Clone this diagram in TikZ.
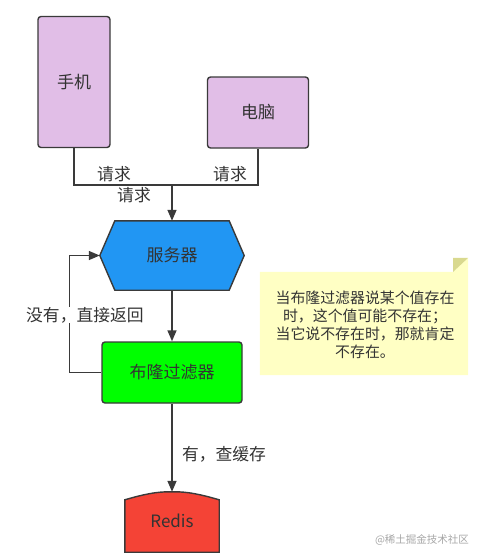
\documentclass[tikz,border=0pt]{standalone}
\usepackage{fontspec}
\setmainfont{Noto Sans CJK SC}
\usetikzlibrary{arrows.meta}
\definecolor{txt}{HTML}{333333}
\definecolor{edge}{HTML}{3A3A3A}
\definecolor{purp}{HTML}{E1BEE7}
\definecolor{blue1}{HTML}{2196F3}
\definecolor{green1}{HTML}{00FF00}
\definecolor{red1}{HTML}{F44336}
\definecolor{notefill}{HTML}{FFFFC4}
\definecolor{notefold}{HTML}{D9D98F}
\tikzset{
  device/.style={draw=edge, line width=1.4pt, fill=purp, rounded corners=3pt, text=txt,
    font=\fontsize{17}{20}\selectfont, inner sep=0pt},
  plain/.style={inner sep=0pt, text=txt, font=\fontsize{17}{20}\selectfont},
  lbl/.style={inner sep=0pt, text=txt, font=\fontsize{16.8}{20}\selectfont},
  conn/.style={draw=edge, line width=1.4pt},
  arr/.style={conn, -{Triangle[length=11pt,width=9pt]}},
}
\begin{document}
\begin{tikzpicture}[x=1pt,y=-1pt]
\useasboundingbox (0,0) rectangle (482,560);
% devices
\node[device, minimum width=72pt, minimum height=131pt] (phone) at (74,82) {手机};
\node[device, minimum width=101pt, minimum height=71pt] (pc) at (258,112.5) {电脑};
\coordinate (join) at (172,185);
% server hexagon
\node[plain, minimum width=144pt, minimum height=69pt] (server) at (172,255.5) {};
\filldraw[draw=edge, line width=1.4pt, fill=blue1]
  (server.west) -- ([xshift=15pt]server.north west) -- ([xshift=-15pt]server.north east)
  -- (server.east) -- ([xshift=-15pt]server.south east) -- ([xshift=15pt]server.south west) -- cycle;
\node[plain] (servertext) at (server.center) {服务器};
% bloom filter
\node[device, fill=green1, minimum width=140pt, minimum height=61pt] (bloom) at (172,372.5) {布隆过滤器};
% redis
\node[plain, minimum width=94pt, minimum height=60pt] (redis) at (172,522) {};
\filldraw[draw=edge, line width=1.4pt, fill=red1]
  (redis.south west) -- ([yshift=-8pt]redis.north west)
  .. controls ([xshift=-20pt]redis.north) and ([xshift=-10pt]redis.north) .. (redis.north)
  .. controls ([xshift=10pt]redis.north) and ([xshift=20pt]redis.north) .. ([yshift=-8pt]redis.north east)
  -- (redis.south east) -- cycle;
\node[plain] (redistext) at ([yshift=1pt]redis.center) {Redis};
% note
\node[inner sep=0pt, minimum width=208pt, minimum height=103pt] (note) at (364,323.5) {};
\fill[notefill] (note.south west) -- (note.north west) -- ([xshift=-15pt]note.north east)
  -- ([yshift=14pt]note.north east) -- (note.south east) -- cycle;
\fill[notefold] ([xshift=-15pt]note.north east) -- ([xshift=-15pt,yshift=14pt]note.north east)
  -- ([yshift=14pt]note.north east) -- cycle;
\node[inner sep=0pt, text=txt, align=center, font=\fontsize{14.9}{18}\selectfont] (notetext) at (365,325)
  {当布隆过滤器说某个值存在\\时，这个值可能不存在；\\当它说不存在时，那就肯定\\不存在。};
% connectors
\draw[conn] (phone.south) |- (join) -| (pc.south);
\draw[arr] (join) -- (server.north);
\draw[arr] (server.south) -- (bloom.north);
\draw[arr] (bloom.west) -- ++(-32pt,0) |- (server.west);
\draw[arr] (bloom.south) -- (redis.north);
% labels
\node[lbl] (l1) at (114,174) {请求};
\node[lbl] (l2) at (230,174) {请求};
\node[lbl] (l3) at (134,195) {请求};
\node[lbl, fill=white] (l4) at (85,315) {没有，直接返回};
\node[lbl] (l5) at (224,454) {有，查缓存};
\node[inner sep=0pt, text=black!35, font=\fontsize{10.5}{12}\selectfont] (wm) at (422,540) {@稀土掘金技术社区};
\end{tikzpicture}
\end{document}
